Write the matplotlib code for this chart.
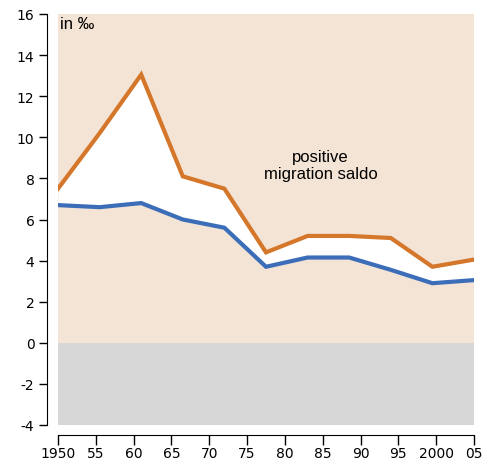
import matplotlib.pyplot as plt

# data (per mille)
years = [1950, 1955.5, 1961, 1966.5, 1972, 1977.5, 1983, 1988.5, 1994, 1999.5, 2005]
upper = [7.5, 10.2, 13.05, 8.1, 7.5, 4.4, 5.2, 5.2, 5.1, 3.7, 4.05]   # orange
lower = [6.7, 6.6, 6.8, 6.0, 5.6, 3.7, 4.15, 4.15, 3.55, 2.9, 3.05]   # blue

xticks = [1950, 1955, 1960, 1965, 1970, 1975, 1980, 1985, 1990, 1995, 2000, 2005]
xlabels = ['1950', '55', '60', '65', '70', '75', '80', '85', '90', '95', '2000', '05']
yticks = list(range(-4, 17, 2))

orange = '#D4772B'
blue = '#3B6DB8'
bg = '#F4E4D6'
grey = '#D7D7D7'

fig = plt.figure(figsize=(4.92, 4.60), dpi=100)
ax = fig.add_axes([58 / 492, 1 - 426 / 460, (474 - 58) / 492, (426 - 15) / 460])

# background bands
ax.axhspan(0, 16, color=bg, lw=0, zorder=0)
ax.axhspan(-4, 0, color=grey, lw=0, zorder=0)

ax.fill_between(years, lower, upper, color='white', lw=0, zorder=1)
ax.plot(years, upper, color=orange, lw=3, zorder=3, solid_joinstyle='miter')
ax.plot(years, lower, color=blue, lw=3, zorder=3, solid_joinstyle='miter')

ax.set_xlim(1950, 2005)
ax.set_ylim(-4, 16)
ax.set_xticks(xticks)
ax.set_xticklabels(xlabels, fontfamily='Roboto', fontsize=10, fontweight='medium')
ax.set_yticks(yticks)
ax.set_yticklabels([str(v) for v in yticks], fontfamily='Roboto', fontsize=10,
                   fontweight='medium')

for s in ['top', 'right']:
    ax.spines[s].set_visible(False)
ax.spines['left'].set_position(('outward', 8))
ax.spines['bottom'].set_position(('outward', 7))
ax.tick_params(axis='y', length=6, width=1, pad=3)
ax.tick_params(axis='x', length=7, width=1, pad=1)

ax.text(0.005, 0.995, 'in ‰', transform=ax.transAxes, ha='left', va='top',
        fontsize=12, fontfamily='Liberation Sans')
ax.text(1984.7, 8.65, 'positive\nmigration saldo', ha='center', va='center',
        fontsize=12, fontfamily='Liberation Sans', linespacing=1.2)

fig.savefig('out.png', dpi=100)
